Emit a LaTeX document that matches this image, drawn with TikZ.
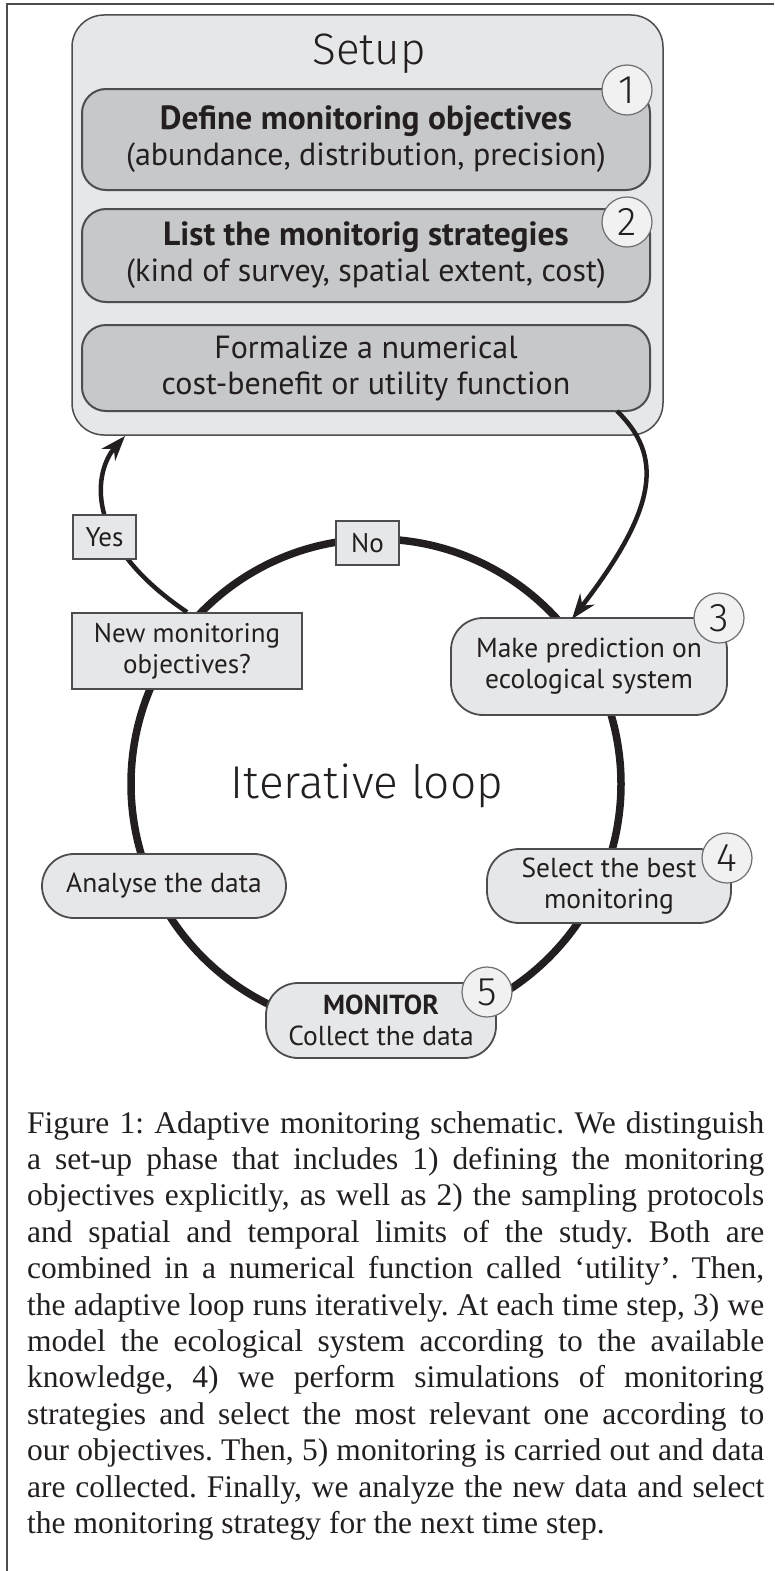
\documentclass[tikz,border=0pt]{standalone}
\usepackage{fontspec}
\setmainfont{Liberation Serif}
\newfontfamily\diafont{PT Sans}
\newfontfamily\litefont{Fira Sans Light}
\usetikzlibrary{arrows.meta,backgrounds}
\definecolor{lgray}{HTML}{E6E7E8}
\definecolor{mgray}{HTML}{C7C8CA}
\definecolor{bord}{HTML}{4D4D4F}
\definecolor{ink}{HTML}{231F20}
\definecolor{numfill}{HTML}{F1F1F2}
\definecolor{numbord}{HTML}{6D6E71}
\frenchspacing
\begin{document}
\begin{tikzpicture}[x=1pt,y=-1pt,
  frame/.style={draw=bord, line width=1.5pt},
  setupbox/.style={draw=bord, line width=1.5pt, fill=lgray, rounded corners=32pt, minimum width=591pt, minimum height=420pt, inner sep=0pt},
  titletext/.style={font=\litefont\fontsize{44}{44}\selectfont, text=ink, inner sep=0pt},
  innerbox/.style={draw=bord, line width=2pt, fill=mgray, rounded corners=24pt, minimum width=568pt, inner sep=0pt, align=center, font=\diafont\fontsize{32}{36}\selectfont, text=ink},
  loopbox/.style={draw=bord, line width=1.8pt, fill=lgray, rounded corners=32pt, inner sep=0pt, align=center, font=\diafont\fontsize{27.5}{31}\selectfont, text=ink},
  rectbox/.style={draw=bord, line width=1.8pt, fill=lgray, inner sep=0pt, align=center, font=\diafont\fontsize{27}{31}\selectfont, text=ink},
  numc/.style={circle, draw=numbord, line width=1.2pt, fill=numfill, minimum size=50pt, inner sep=0pt, font=\litefont\fontsize{40}{40}\selectfont, text=ink},
  yn/.style={draw=bord, line width=1.6pt, fill=lgray, inner sep=0pt, minimum width=63pt, minimum height=44pt, font=\diafont\fontsize{27}{27}\selectfont, text=ink},
  ringstyle/.style={circle, draw=ink, line width=7.5pt, minimum size=490pt, inner sep=0pt},
  arr/.style={draw=ink, line width=4.5pt, -{Stealth[length=25pt,width=18pt]}},
  captext/.style={anchor=north west, inner sep=0pt, text width=737pt, align=justify, font=\fontsize{31.5}{36.4}\selectfont, text=ink}
]
\useasboundingbox (0,0) rectangle (774,1571);
\draw[frame] (7,1571) -- (7,4) -- (774,4);

% setup phase
\node[setupbox] (setup) at (367.5,225) {};
\node[titletext, anchor=base] (setuptitle) at (369,65) {Setup};
\node[innerbox, minimum height=101pt] (b1) at (366,139.5) {{\bfseries\fontsize{33.5}{36}\selectfont Define monitoring objectives}\\(abundance, distribution, precision)};
\node[innerbox, minimum height=93pt] (b2) at (366,255.5) {{\bfseries\fontsize{33.5}{36}\selectfont List the monitorig strategies}\\(kind of survey, spatial extent, cost)};
\node[innerbox, minimum height=86pt] (b3) at (366,368) {Formalize a numerical\\cost-benefit or utility function};
\node[numc] (n1) at (627,90) {1};
\node[numc] (n2) at (627,222) {2};

% loop
\node[rectbox, minimum width=230pt, minimum height=76pt] (newobj) at (187,651) {New monitoring\\objectives?};
\node[loopbox, minimum width=276pt, minimum height=97pt] (pred) at (589,666.5) {Make prediction on\\ecological system};
\node[loopbox, minimum width=244pt, minimum height=74pt] (sel) at (609,886) {Select the best\\monitoring};
\node[loopbox, minimum width=244pt, minimum height=64pt] (ana) at (164,886) {Analyse the data};
\node[loopbox, minimum width=230pt, minimum height=75pt] (mon) at (381,1020.5) {\textbf{MONITOR}\\Collect the data};
\node[numc] (n3) at (719,618) {3};
\node[numc] (n4) at (727,858) {4};
\node[numc] (n5) at (487,992) {5};

\begin{scope}[on background layer]
\node[ringstyle] (ring) at (376,784) {};
\end{scope}
\node[titletext, anchor=base, font=\litefont\fontsize{46}{46}\selectfont] (itl) at (367,798) {Iterative loop};

% arrows
\coordinate (a1) at (617,411);
\coordinate (a2) at (572,619);
\coordinate (a3) at (125,436);
\draw[arr] (a1) .. controls (662,455) and (660,505) .. (a2);
\draw[arr] (newobj.north) .. controls (80,540) and (95,470) .. (a3);
\node[yn] (yes) at (104.5,537) {Yes};
\node[yn] (no) at (367.5,543) {No};

% caption
\node[captext] (cap) at (27,1111) {Figure 1: Adaptive monitoring schematic. We distinguish\linebreak
a set-up phase that includes 1) defining the monitoring\linebreak
objectives explicitly, as well as 2) the sampling protocols\linebreak
and spatial and temporal limits of the study. Both are\linebreak
combined in a numerical function called ‘utility’. Then,\linebreak
the adaptive loop runs iteratively. At each time step, 3) we\linebreak
model the ecological system according to the available\linebreak
knowledge, 4) we perform simulations of monitoring\linebreak
strategies and select the most relevant one according to\linebreak
our objectives. Then, 5) monitoring is carried out and data\linebreak
are collected. Finally, we analyze the new data and select\linebreak
the monitoring strategy for the next time step.};
\end{tikzpicture}
\end{document}
